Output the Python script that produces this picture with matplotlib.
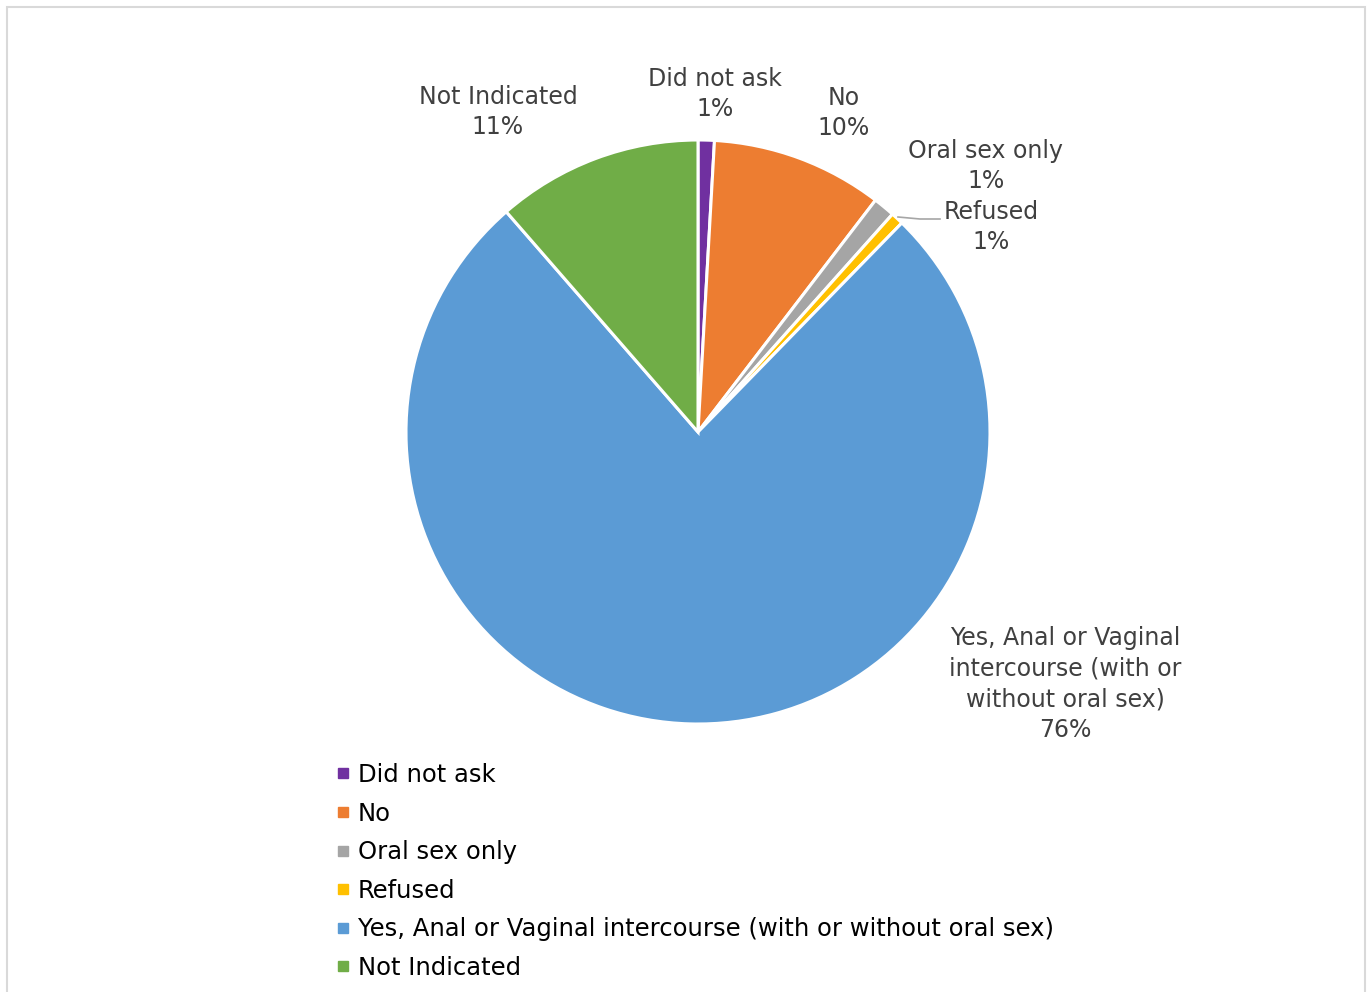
import matplotlib
matplotlib.use("Agg")
import matplotlib.pyplot as plt
from matplotlib.lines import Line2D
from matplotlib.patches import Rectangle

categories = [
    "Did not ask",
    "No",
    "Oral sex only",
    "Refused",
    "Yes, Anal or Vaginal intercourse (with or without oral sex)",
    "Not Indicated",
]
slice_labels = [
    "Did not ask",
    "No",
    "Oral sex only",
    "Refused",
    "Yes, Anal or Vaginal\nintercourse (with or\nwithout oral sex)",
    "Not Indicated",
]
values = [0.9, 9.5, 1.2, 0.7, 76.3, 11.4]
colors = ["#7030A0", "#ED7D31", "#A5A5A5", "#FFC000", "#5B9BD5", "#70AD47"]

W, H = 1372, 992
plt.rcParams["font.family"] = ["DejaVu Sans"]
fig = plt.figure(figsize=(W / 100, H / 100), dpi=100)
ax = fig.add_axes([0, 0, 1, 1])

# chart frame
ax.add_patch(Rectangle((6.5, -5), W - 14, H - 1.5, fill=False,
                       edgecolor="#D9D9D9", linewidth=1.5))

cx, cy, r = 698, H - 432, 292
wedges, _ = ax.pie(values, colors=colors, startangle=90, counterclock=False,
                   center=(cx, cy), radius=r, frame=True,
                   wedgeprops=dict(edgecolor="white", linewidth=2.2))
ax.set_xlim(0, W)
ax.set_ylim(0, H)
ax.set_aspect("equal")
ax.axis("off")

label_pos = [(715, 94), (844, 113), (986, 166), (991, 227), (1065, 684), (498, 112)]
total = sum(values)
for lab, v, (lx, ly) in zip(slice_labels, values, label_pos):
    ax.text(lx, H - ly, f"{lab}\n{v / total * 100:.0f}%", ha="center", va="center",
            fontsize=17, color="#404040", linespacing=1.35)

# leader line for the thin "Refused" slice
ax.plot([898, 920, 940], [H - 217, H - 219, H - 219], color="#A6A6A6", lw=1.2)

handles = [Line2D([], [], marker="s", linestyle="none", markersize=6.5,
                  markerfacecolor=c, markeredgecolor=c) for c in colors]
fig.legend(handles, categories, loc="upper left",
           bbox_to_anchor=(337 / W, 1 - 763 / H), frameon=False,
           fontsize=17.5, handlelength=0.5, handletextpad=0.35,
           labelspacing=0.6, borderaxespad=0, borderpad=0, labelcolor="black")

fig.savefig("out.png", dpi=100, facecolor="white")
